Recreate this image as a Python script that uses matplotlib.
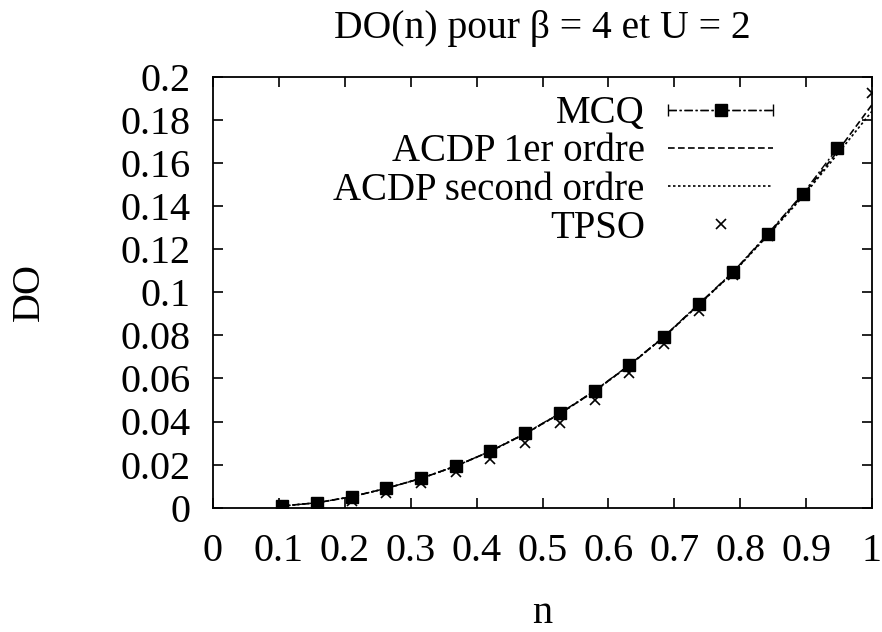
import numpy as np
import matplotlib
matplotlib.use("Agg")
import matplotlib.pyplot as plt
from matplotlib.container import ErrorbarContainer
from matplotlib.legend_handler import HandlerErrorbar

plt.rcParams['font.family'] = ['Liberation Serif', 'DejaVu Serif']

# ---- data ----
n_k = np.arange(2, 20)          # fillings k/19
n_vals = n_k / 19.0

mcq = [0.0008, 0.0023, 0.0051, 0.0090, 0.0136, 0.0193, 0.0263, 0.0345, 0.0438,
       0.0543, 0.0662, 0.0794, 0.0945, 0.1095, 0.1272, 0.1456, 0.1668]
acdp1 = [0.0008, 0.0023, 0.0051, 0.0090, 0.0136, 0.0193, 0.0262, 0.0343, 0.0436,
         0.0541, 0.0660, 0.0792, 0.0942, 0.1093, 0.1268, 0.1450, 0.1652, 0.1870]
acdp2 = [0.0008, 0.0023, 0.0051, 0.0090, 0.0136, 0.0193, 0.0262, 0.0343, 0.0436,
         0.0541, 0.0660, 0.0792, 0.0941, 0.1091, 0.1264, 0.1442, 0.1640, 0.1840]
tpso = [0.0005, 0.0015, 0.0033, 0.0070, 0.0116, 0.0167, 0.0225, 0.0300, 0.0392,
        0.0500, 0.0624, 0.0760, 0.0913, 0.1080, 0.1260, 0.1450, 0.1665, 0.1926]

xticks = [0, 0.1, 0.2, 0.3, 0.4, 0.5, 0.6, 0.7, 0.8, 0.9, 1]
xticklabels = ['0', '0.1', '0.2', '0.3', '0.4', '0.5', '0.6', '0.7', '0.8', '0.9', '1']
yticks = [0, 0.02, 0.04, 0.06, 0.08, 0.1, 0.12, 0.14, 0.16, 0.18, 0.2]
yticklabels = ['0', '0.02', '0.04', '0.06', '0.08', '0.1', '0.12', '0.14', '0.16', '0.18', '0.2']

title = "DO(n) pour β = 4 et U = 2"
labels = ["MCQ", "ACDP 1er ordre", "ACDP second ordre", "TPSO"]

# ---- figure ----
fig = plt.figure(figsize=(8.82, 6.32), dpi=100)
ax = fig.add_axes([213/882, 1-507.7/632, (872-213)/882, (507.7-76.7)/632])

eb = ax.errorbar(n_vals[:len(mcq)], mcq, xerr=0.0, fmt='s', ls=(0, (6, 2, 1.5, 2)),
                 color='black', lw=1.0, ms=8, capsize=4, elinewidth=1.0,
                 label=labels[0], zorder=4)
eb[2][0].set_linestyle((0, (6, 2, 1.5, 2)))
l1, = ax.plot(n_vals, acdp1, ls=(0, (4, 2)), color='black', lw=1.2,
              label=labels[1], zorder=3)
l2, = ax.plot(n_vals, acdp2, ls=(0, (1.5, 1.5)), color='black', lw=1.2,
              label=labels[2], zorder=3)
l3, = ax.plot(n_vals, tpso, ls='none', marker='x', color='black', ms=7, mew=1.2,
              label=labels[3], zorder=5)

ax.set_xlim(0, 1)
ax.set_ylim(0, 0.2)
ax.set_xticks(xticks)
ax.set_xticklabels(xticklabels)
ax.set_yticks(yticks)
ax.set_yticklabels(yticklabels)
ax.tick_params(direction='in', length=7, width=1.2, top=True, right=True,
               labelsize=29)
ax.tick_params(axis='x', pad=18)
ax.tick_params(axis='y', pad=16)
for s in ax.spines.values():
    s.set_linewidth(1.3)

ax.set_title(title, fontsize=28.5, pad=28)
ax.set_xlabel("n", fontsize=29, labelpad=18)
ax.set_ylabel("DO", fontsize=29, labelpad=52)

leg = ax.legend([eb, l1, l2, l3], labels,
                loc='upper right', bbox_to_anchor=(0.85, 0.957), frameon=False,
                markerfirst=False, fontsize=28, handlelength=2.7, handletextpad=0.6,
                labelspacing=0.03, borderpad=0, borderaxespad=0,
                handler_map={ErrorbarContainer: HandlerErrorbar(xerr_size=1.35)})

fig.savefig("out.png", dpi=100)
